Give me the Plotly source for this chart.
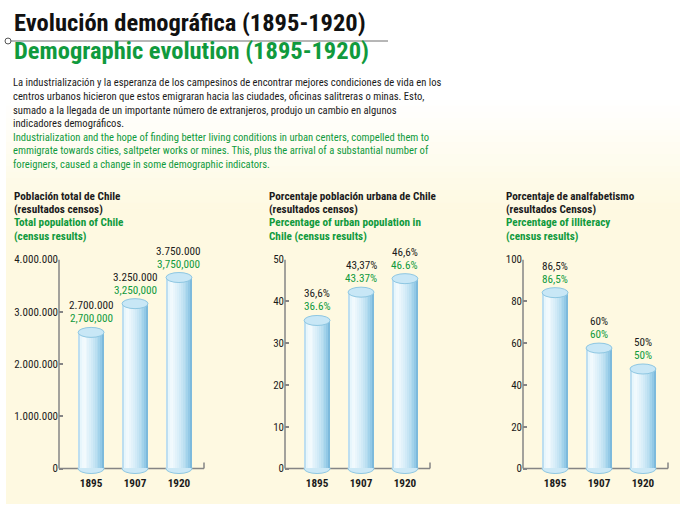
import plotly.graph_objects as go

# ---------------- data ----------------
years = ["1895", "1907", "1920"]

pop_values = [2700000, 3250000, 3750000]
pop_labels_es = ["2.700.000", "3.250.000", "3.750.000"]
pop_labels_en = ["2,700,000", "3,250,000", "3,750,000"]
pop_ticks = [0, 1000000, 2000000, 3000000, 4000000]

urban_values = [36.6, 43.37, 46.6]
urban_labels_es = ["36,6%", "43,37%", "46,6%"]
urban_labels_en = ["36.6%", "43.37%", "46.6%"]
urban_ticks = [0, 10, 20, 30, 40, 50]

illit_values = [86.5, 60, 50]
illit_labels_es = ["86,5%", "60%", "50%"]
illit_labels_en = ["86,5%", "60%", "50%"]
illit_ticks = [0, 20, 40, 60, 80, 100]

title_es = "Evolución demográfica (1895-1920)"
title_en = "Demographic evolution (1895-1920)"
para_es = [
    "La industrialización y la esperanza de los campesinos de encontrar mejores condiciones de vida en los",
    "centros urbanos hicieron que estos emigraran hacia las ciudades, oficinas salitreras o minas. Esto,",
    "sumado a la llegada de un importante número de extranjeros, produjo un cambio en algunos",
    "indicadores demográficos.",
]
para_en = [
    "Industrialization and the hope of finding better living conditions in urban centers, compelled them to",
    "emmigrate towards cities, saltpeter works or mines. This, plus the arrival of a substantial number of",
    "foreigners, caused a change in some demographic indicators.",
]
chart_titles = [
    (["Población total de Chile", "(resultados censos)"],
     ["Total population of Chile", "(census results)"]),
    (["Porcentaje población urbana de Chile", "(resultados censos)"],
     ["Percentage of urban population in", "Chile (census results)"]),
    (["Porcentaje de analfabetismo", "(resultados Censos)"],
     ["Percentage of illiteracy", "(census results)"]),
]

# ---------------- style ----------------
W, H = 680, 507
FONT = "Liberation Sans Narrow, Arial Narrow, Roboto Condensed, sans-serif"
BLACK = "#1b1b1b"
GREEN = "#109a3d"
CREAM = (254, 249, 225)
AXIS = "#858585"


def px(x):
    return x / W


def py(y):
    return 1 - y / H


charts = [
    dict(values=pop_values, es=pop_labels_es, en=pop_labels_en, ticks=pop_ticks,
         ymax=4000000, x0=59, x1=204, tx=12),
    dict(values=urban_values, es=urban_labels_es, en=urban_labels_en, ticks=urban_ticks,
         ymax=50, x0=285, x1=430, tx=267),
    dict(values=illit_values, es=illit_labels_es, en=illit_labels_en, ticks=illit_ticks,
         ymax=100, x0=523, x1=668, tx=504),
]

Y_ZERO, Y_TOP, PAD = 469, 257, 6
AXIS_PX = Y_ZERO - Y_TOP
BW = 0.59          # bar width in category units
NSL = 14           # slices to fake the cylinder shading

stops = [(0.0, (150, 200, 228)), (0.07, (226, 244, 251)), (0.22, (245, 251, 254)),
         (0.5, (214, 237, 248)), (0.8, (168, 214, 236)), (0.93, (138, 196, 227)),
         (1.0, (112, 176, 212))]


def grad(t):
    for (t0, c0), (t1, c1) in zip(stops[:-1], stops[1:]):
        if t <= t1:
            f = (t - t0) / (t1 - t0)
            return "rgb(%d,%d,%d)" % tuple(round(a + (b - a) * f) for a, b in zip(c0, c1))
    return "rgb(%d,%d,%d)" % stops[-1][1]


fig = go.Figure()
shapes = []
annotations = []

# background: white top fading to cream panel
y_a, y_b = 95, 205
nb = 18
for k in range(nb):
    f = (k + 0.5) / nb
    col = "rgb(%d,%d,%d)" % tuple(round(255 + (c - 255) * f) for c in CREAM)
    yy0 = y_a + (y_b - y_a) * k / nb
    yy1 = y_a + (y_b - y_a) * (k + 1) / nb + 0.6
    shapes.append(dict(type="rect", xref="paper", yref="paper", x0=px(6), x1=1,
                       y0=py(yy1), y1=py(yy0), fillcolor=col, line=dict(width=0), layer="below"))
shapes.append(dict(type="rect", xref="paper", yref="paper", x0=px(6), x1=1,
                   y0=py(505), y1=py(y_b), fillcolor="rgb(%d,%d,%d)" % CREAM,
                   line=dict(width=0), layer="below"))

# heading rule with small circle
shapes.append(dict(type="line", xref="paper", yref="paper", x0=px(10), x1=px(388),
                   y0=py(35.5), y1=py(35.5), line=dict(color="#6e6e6e", width=1)))
shapes.append(dict(type="circle", xref="paper", yref="paper", x0=px(5), x1=px(11),
                   y0=py(38.5), y1=py(32.5), fillcolor="white", line=dict(color="#555", width=1)))

annotations.append(dict(text="<b>%s</b>" % title_es, xref="paper", yref="paper", x=px(12), y=py(17),
                        xanchor="left", yanchor="middle", showarrow=False,
                        font=dict(family=FONT, size=24.5, color="#111")))
annotations.append(dict(text="<b>%s</b>" % title_en, xref="paper", yref="paper", x=px(12), y=py(45.5),
                        xanchor="left", yanchor="middle", showarrow=False,
                        font=dict(family=FONT, size=24.5, color=GREEN)))

line_y = [77.5, 91.5, 105.5, 119.5, 133, 147, 160.5]
for i, t in enumerate(para_es + para_en):
    annotations.append(dict(text=t, xref="paper", yref="paper", x=px(11), y=py(line_y[i]),
                            xanchor="left", yanchor="middle", showarrow=False,
                            font=dict(family=FONT, size=10.6,
                                      color=BLACK if i < len(para_es) else GREEN)))

layout_axes = {}
for ci, ch in enumerate(charts):
    sfx = "" if ci == 0 else str(ci + 1)
    xa, ya = "x" + sfx, "y" + sfx
    upp = ch["ymax"] / AXIS_PX
    vals = ch["values"]

    # chart title block
    es_l, en_l = chart_titles[ci]
    for j, t in enumerate(es_l + en_l):
        annotations.append(dict(text="<b>%s</b>" % t, xref="paper", yref="paper", x=px(ch["tx"]),
                                y=py([193, 206.5, 220, 233.5][j]), xanchor="left", yanchor="middle",
                                showarrow=False,
                                font=dict(family=FONT, size=11.2, color=BLACK if j < 2 else GREEN)))

    # axis lines (drawn first so bars cover them)
    shapes.append(dict(type="line", xref=xa + " domain", yref=ya, x0=0, x1=1, y0=0, y1=0,
                       line=dict(color=AXIS, width=1.5), layer="below"))
    shapes.append(dict(type="line", xref=xa + " domain", yref=ya, x0=0, x1=0, y0=0, y1=ch["ymax"],
                       line=dict(color=AXIS, width=1.5), layer="below"))
    shapes.append(dict(type="line", xref=xa + " domain", yref=ya, x0=1, x1=1, ysizemode="pixel",
                       yanchor=0, y0=0, y1=6, line=dict(color=AXIS, width=1.5), layer="below"))

    # bottom caps
    for i in range(len(years)):
        shapes.append(dict(type="circle", xref=xa, yref=ya, x0=i - BW / 2, x1=i + BW / 2,
                           ysizemode="pixel", yanchor=0, y0=-5, y1=5,
                           fillcolor="#cde9f6", line=dict(color="#8ec7e2", width=1), layer="below"))

    # cylinder body made of thin shaded slices
    heights = [v - 5 * upp for v in vals]
    for k in range(NSL):
        t = (k + 0.5) / NSL
        wk = BW / NSL * (1.25 if k < NSL - 1 else 1.0)
        fig.add_trace(go.Bar(x=years, y=heights, width=[wk] * 3, offset=-BW / 2 + k * BW / NSL,
                             marker=dict(color=grad(t), line=dict(width=0)),
                             xaxis=xa, yaxis=ya, hoverinfo="skip", showlegend=False))

    # top caps
    for i in range(len(years)):
        shapes.append(dict(type="circle", xref=xa, yref=ya, x0=i - BW / 2, x1=i + BW / 2,
                           ysizemode="pixel", yanchor=vals[i], y0=-10, y1=0,
                           fillcolor="#c8e7f6", line=dict(color="#8ec7e2", width=1), layer="above"))

    # value labels (Spanish format in black, English format in green)
    for i in range(len(years)):
        annotations.append(dict(text=ch["es"][i], xref=xa, yref=ya, x=i, y=vals[i],
                                yshift=21.5, xanchor="center", yanchor="middle", showarrow=False,
                                font=dict(family=FONT, size=11.2, color=BLACK)))
        annotations.append(dict(text=ch["en"][i], xref=xa, yref=ya, x=i, y=vals[i],
                                yshift=8.5, xanchor="center", yanchor="middle", showarrow=False,
                                font=dict(family=FONT, size=11.2, color=GREEN)))

    layout_axes["xaxis" + sfx] = dict(domain=[px(ch["x0"]), px(ch["x1"])], anchor=ya,
                                      type="category", range=[-0.73, 2.57], showline=False,
                                      showgrid=False, zeroline=False, ticks="",
                                      tickfont=dict(family=FONT, size=11.2, color=BLACK, weight="bold"),
                                      fixedrange=True)
    layout_axes["yaxis" + sfx] = dict(domain=[py(Y_ZERO + PAD), py(Y_TOP)], anchor=xa,
                                      range=[-PAD * upp, ch["ymax"]], tickvals=ch["ticks"],
                                      tickformat=",d", ticks="inside", ticklen=4, tickwidth=1.5,
                                      tickcolor=AXIS, showline=False, showgrid=False, zeroline=False,
                                      tickfont=dict(family=FONT, size=11, color=BLACK),
                                      fixedrange=True)

fig.update_layout(width=W, height=H, margin=dict(l=0, r=0, t=0, b=0),
                  paper_bgcolor="white", plot_bgcolor="rgba(0,0,0,0)",
                  barmode="overlay", bargap=0, showlegend=False, separators=",.",
                  shapes=shapes, annotations=annotations, **layout_axes)

fig.write_html("out.html", config={"displayModeBar": False},
               post_script="document.body.style.margin='0';document.body.style.padding='0';")
